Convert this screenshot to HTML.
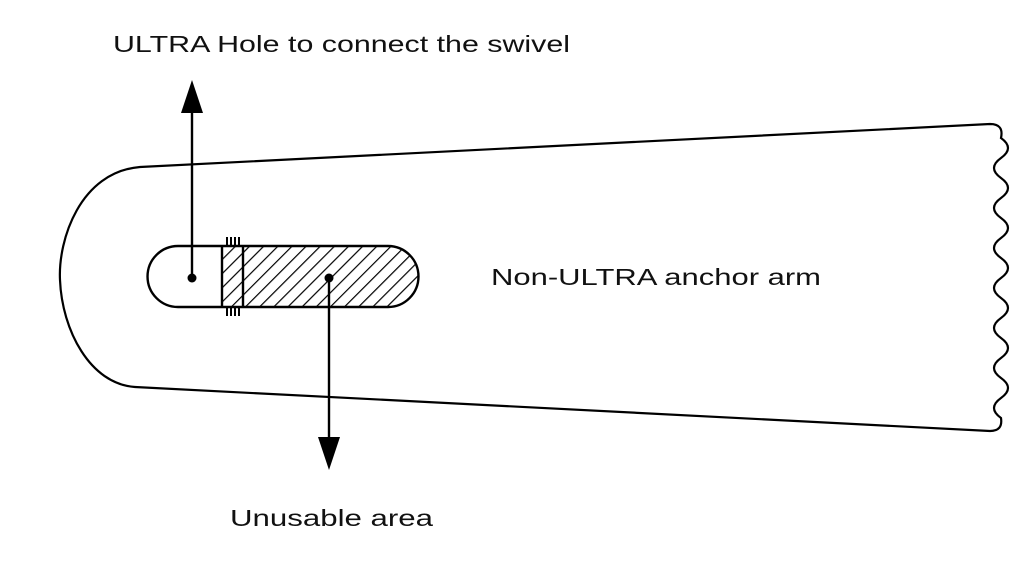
<!DOCTYPE html>
<html><head><meta charset="utf-8"><style>
html,body{margin:0;padding:0;background:#fff;width:1024px;height:561px;overflow:hidden}
text{font-family:"Liberation Sans",sans-serif;fill:#111}
</style></head><body>
<svg width="1024" height="561" viewBox="0 0 1024 561" xmlns="http://www.w3.org/2000/svg">
<defs>
<pattern id="h" patternUnits="userSpaceOnUse" width="10" height="10" patternTransform="rotate(45)">
<line x1="0" y1="0" x2="0" y2="10" stroke="#000" stroke-width="2.4"/>
</pattern>
<clipPath id="c"><path d="M222 246 H388 A30.5 30.5 0 0 1 388 307 H222 Z"/></clipPath>
</defs>
<g fill="none" stroke="#000" stroke-width="2.2">
<path d="M990 124 L140 167 C80 172 58 240 60 280 C62 330 90 384 135 387 L990 431 Q1003 431 1001 418 q-14 -10 0 -20 q14 -10 0 -20 q-14 -10 0 -20 q14 -10 0 -20 q-14 -10 0 -20 q14 -10 0 -20 q-14 -10 0 -20 q14 -10 0 -20 q-14 -10 0 -20 q14 -10 0 -20 q-14 -10 0 -20 q14 -10 0 -20 q-14 -10 0 -20 q14 -10 0 -20 Q1004 124 990 124 Z"/>
</g>
<rect x="222" y="246" width="200" height="61" fill="url(#h)" clip-path="url(#c)"/>
<g fill="none" stroke="#000" stroke-width="2.4">
<path d="M178 246 H388 A30.5 30.5 0 0 1 388 307 H178 A30.5 30.5 0 0 1 178 246 Z"/>
<line x1="222" y1="246" x2="222" y2="307"/>
<line x1="243" y1="246" x2="243" y2="307"/>
</g>
<g stroke="#000" stroke-width="2">
<line x1="227" y1="237" x2="227" y2="246"/><line x1="231" y1="237" x2="231" y2="246"/><line x1="235" y1="237" x2="235" y2="246"/><line x1="239" y1="237" x2="239" y2="246"/>
<line x1="227" y1="307" x2="227" y2="316"/><line x1="231" y1="307" x2="231" y2="316"/><line x1="235" y1="307" x2="235" y2="316"/><line x1="239" y1="307" x2="239" y2="316"/>
</g>
<g stroke="#000" stroke-width="2.4">
<line x1="192" y1="278" x2="192" y2="110"/>
<line x1="329" y1="278" x2="329" y2="440"/>
</g>
<circle cx="192" cy="278" r="4.5" fill="#000"/>
<circle cx="329" cy="278" r="4.5" fill="#000"/>
<polygon points="192,80 181,113 203,113" fill="#000"/>
<polygon points="329,470 318,437 340,437" fill="#000"/>
<text x="113" y="52" font-size="23" textLength="457" lengthAdjust="spacingAndGlyphs">ULTRA Hole to connect the swivel</text>
<text x="491" y="285" font-size="23" textLength="330" lengthAdjust="spacingAndGlyphs">Non-ULTRA anchor arm</text>
<text x="230" y="526" font-size="23" textLength="203" lengthAdjust="spacingAndGlyphs">Unusable area</text>
</svg>
</body></html>
